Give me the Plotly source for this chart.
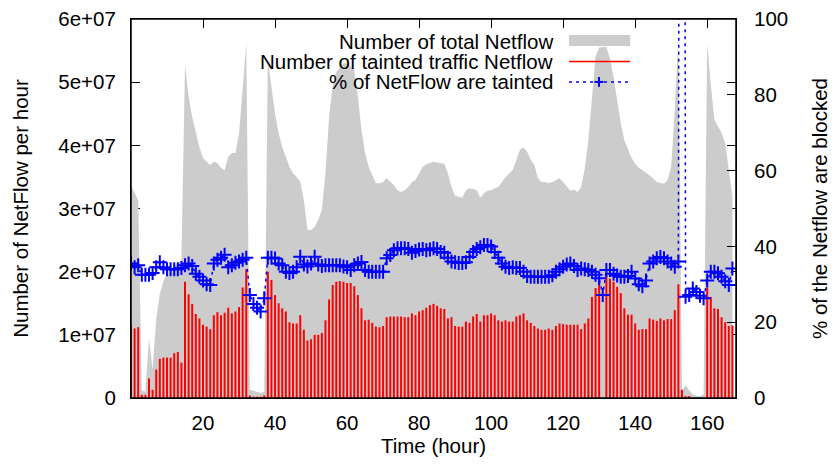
import plotly.graph_objects as go

# ---------------- data ----------------
hours = list(range(168))

# total NetFlow per hour, in units of 1e7 (None = missing hour)
total_e7 = [
    3.37, 3.24, 3.13, 0.12, 0.10, 0.95, 0.45, 1.25, 1.65, 1.85,
    1.98, 2.04, 2.09, 2.13, 2.18, 5.27, 4.77, 4.45, 4.19, 3.97,
    3.80, 3.74, 3.69, 3.74, 3.72, 3.64, 3.61, 3.82, 3.88, 3.88,
    4.19, 4.88, 5.62, 0.13, 0.12, 0.10, 0.08, 0.10, 5.35, 4.95,
    4.50, 4.19, 3.97, 3.82, 3.66, 3.56, 3.50, 3.42, 3.13, 2.66,
    2.66, 2.71, 2.82, 2.98, 3.56, 4.45, 4.93, 5.16, 5.24, 5.30,
    5.30, 5.24, 5.19, 4.77, 4.24, 3.88, 3.66, 3.53, 3.40, 3.40,
    3.42, 3.48, 3.42, 3.37, 3.29, 3.26, 3.29, 3.34, 3.42, 3.45,
    3.56, 3.66, 3.70, 3.72, 3.74, 3.73, 3.72, 3.71, 3.56, 3.34,
    3.20, 3.18, 3.17, 3.29, 3.32, 3.31, 3.29, 3.17, 3.24, 3.28,
    3.29, 3.32, 3.34, 3.42, 3.50, 3.55, 3.61, 3.77, 3.93, 3.97,
    3.90, 3.77, 3.69, 3.48, 3.42, 3.42, 3.40, 3.42, 3.45, 3.48,
    3.42, 3.34, 3.28, 3.30, 3.26, 3.34, 3.63, 4.08, 4.75, 5.41,
    5.55, None, 5.56, 5.37, 5.08, 4.72, 4.35, 4.08, 3.95, 3.80,
    3.71, 3.64, 3.61, 3.57, 3.53, 3.48, 3.42, 3.40, 3.39, 3.45,
    3.66, 4.56, 5.70, 0.12, 0.20, 0.12, 0.06, 0.03, 0.03, 0.05,
    5.62, 4.96, 4.40, 4.30, 4.20, 4.03, 3.61, 3.20,
]

# tainted traffic NetFlow per hour, in units of 1e7
tainted_e7 = [
    1.15, 1.10, 1.12, 0.05, 0.05, 0.31, 0.13, 0.45, 0.62, 0.64,
    0.64, 0.64, 0.71, 0.73, 0.56, 1.84, 1.64, 1.49, 1.33, 1.26,
    1.16, 1.13, 1.09, 1.31, 1.36, 1.31, 1.35, 1.43, 1.34, 1.37,
    1.44, 1.75, 2.04, 0.04, 0.02, 0.02, 0.02, 0.04, 2.00, 1.87,
    1.63, 1.50, 1.42, 1.37, 1.20, 1.18, 1.18, 1.31, 1.08, 0.91,
    0.93, 1.00, 1.00, 1.03, 1.23, 1.56, 1.79, 1.84, 1.85, 1.84,
    1.82, 1.82, 1.77, 1.63, 1.42, 1.23, 1.24, 1.19, 1.13, 1.12,
    1.14, 1.28, 1.29, 1.29, 1.29, 1.29, 1.28, 1.28, 1.34, 1.31,
    1.37, 1.39, 1.43, 1.47, 1.49, 1.46, 1.42, 1.41, 1.26, 1.28,
    1.14, 1.13, 1.13, 1.21, 1.19, 1.29, 1.33, 1.21, 1.31, 1.31,
    1.34, 1.31, 1.23, 1.21, 1.23, 1.21, 1.21, 1.29, 1.31, 1.34,
    1.23, 1.19, 1.14, 1.10, 1.08, 1.08, 1.10, 1.08, 1.14, 1.18,
    1.17, 1.16, 1.16, 1.16, 1.16, 1.09, 1.18, 1.26, 1.60, 1.74,
    1.84, 0.00, 1.93, 1.89, 1.84, 1.76, 1.66, 1.42, 1.32, 1.32,
    1.18, 1.08, 1.09, 1.09, 1.26, 1.24, 1.22, 1.26, 1.23, 1.25,
    1.25, 1.39, 1.80, 0.13, 0.03, 0.03, 0.00, 0.00, 0.00, 0.00,
    1.75, 1.60, 1.42, 1.41, 1.28, 1.20, 1.14, 1.15,
]

# % of NetFlow that are tainted (hour 153 is far above the axis range)
pct_tainted = [
    35.5, 34.5, 35.0, 32.5, 32.5, 32.5, 33.0, 34.5, 35.8, 34.5,
    34.0, 34.0, 34.0, 34.0, 34.3, 35.0, 35.5, 34.8, 32.8, 32.0,
    31.0, 30.0, 29.8, 35.5, 36.5, 37.0, 37.8, 34.5, 35.0, 35.7,
    36.0, 36.5, 37.0, 27.2, 24.8, 23.8, 22.8, 26.3, 37.0, 37.0,
    36.8, 35.5, 35.0, 33.3, 33.0, 33.3, 34.5, 37.3, 35.2, 34.7,
    35.5, 37.3, 35.2, 34.8, 35.0, 35.0, 35.0, 35.0, 35.0, 34.7,
    34.5, 33.8, 35.0, 35.5, 35.9, 33.8, 33.3, 33.3, 33.3, 33.3,
    33.3, 36.9, 37.7, 39.0, 39.5, 39.5, 39.5, 39.3, 38.3, 38.8,
    39.2, 39.3, 39.0, 39.2, 39.5, 39.3, 38.5, 38.3, 37.0, 36.0,
    35.8, 35.6, 35.6, 35.8, 37.2, 38.5, 39.3, 39.8, 40.4, 40.4,
    40.0, 38.5, 37.0, 35.5, 34.6, 34.3, 34.5, 34.3, 34.3, 33.3,
    32.2, 32.0, 32.0, 32.0, 32.0, 32.0, 32.0, 32.4, 33.3, 34.0,
    34.6, 35.2, 35.5, 34.8, 33.8, 34.2, 34.0, 33.8, 33.3, 32.5,
    31.6, 27.2, 33.8, 33.8, 32.8, 32.3, 32.0, 32.0, 32.2, 33.3,
    31.5, 30.0, 29.5, 31.0, 35.5, 36.0, 36.9, 37.2, 36.9, 36.0,
    35.5, 34.6, 36.0, 600.0, 26.7, 27.2, 28.9, 28.0, 27.0, 26.3,
    31.0, 33.3, 33.3, 32.9, 32.0, 30.8, 29.8, 34.2,
]

x_tick_vals = [20, 40, 60, 80, 100, 120, 140, 160]
y_tick_vals = [0, 1e7, 2e7, 3e7, 4e7, 5e7, 6e7]
y_tick_text = ["0", "1e+07", "2e+07", "3e+07", "4e+07", "5e+07", "6e+07"]
y2_tick_vals = [0, 20, 40, 60, 80, 100]

legend_labels = ["Number of total Netflow",
                 "Number of tainted traffic Netflow",
                 "% of NetFlow are tainted"]

# ---------------- derived series ----------------
total = [None if v is None else v * 1e7 for v in total_e7]
tainted = [v * 1e7 for v in tainted_e7]

# impulses (vertical sticks from 0 to value) for the tainted series
imp_x, imp_y = [], []
for h, v in zip(hours, tainted):
    imp_x += [h, h, None]
    imp_y += [0, v, None]

GRAY = "#cccccc"
RED = "#ff0000"
BLUE = "#0000ff"
FONT = "Liberation Sans, Arial, Helvetica, sans-serif"
FS = 20.5

fig = go.Figure()

fig.add_trace(go.Scatter(
    x=hours, y=total, mode="lines", line=dict(width=0, color=GRAY),
    fill="tozeroy", fillcolor=GRAY, connectgaps=False,
    showlegend=False, hoverinfo="skip", yaxis="y"))

fig.add_trace(go.Scatter(
    x=imp_x, y=imp_y, mode="lines", line=dict(width=2, color=RED),
    connectgaps=False, showlegend=False, hoverinfo="skip", yaxis="y"))

fig.add_trace(go.Scatter(
    x=hours, y=pct_tainted, mode="lines+markers",
    line=dict(width=1.5, color=BLUE, dash="3px,4px"),
    marker=dict(symbol="cross-thin", size=10,
                line=dict(width=2, color=BLUE), color=BLUE),
    cliponaxis=True, showlegend=False, hoverinfo="skip", yaxis="y2"))

# ---------------- custom gnuplot-style legend ----------------
text_x = 0.701
rows_y = [0.940, 0.887, 0.835]
for lab, yy in zip(legend_labels, rows_y):
    fig.add_annotation(x=text_x, y=yy, xref="paper", yref="paper",
                       text=lab, showarrow=False, xanchor="right",
                       yanchor="middle", font=dict(family=FONT, size=FS, color="black"))

s_x0, s_x1 = 0.724, 0.825
shapes = [
    dict(type="rect", xref="paper", yref="paper", x0=s_x0, x1=s_x1,
         y0=0.929, y1=0.958, fillcolor=GRAY, line=dict(width=0), layer="above"),
    dict(type="line", xref="paper", yref="paper", x0=s_x0, x1=s_x1,
         y0=rows_y[1] + 0.001, y1=rows_y[1] + 0.001,
         line=dict(color=RED, width=1.5), layer="above"),
    dict(type="line", xref="paper", yref="paper", x0=s_x0, x1=s_x1,
         y0=rows_y[2] - 0.001, y1=rows_y[2] - 0.001,
         line=dict(color=BLUE, width=1.5, dash="3px,4px"), layer="above"),
    dict(type="line", xref="paper", yref="paper", x0=0.7736 - 0.0075, x1=0.7736 + 0.0075,
         y0=rows_y[2] - 0.001, y1=rows_y[2] - 0.001,
         line=dict(color=BLUE, width=2), layer="above"),
    dict(type="line", xref="paper", yref="paper", x0=0.7736, x1=0.7736,
         y0=rows_y[2] - 0.014, y1=rows_y[2] + 0.012,
         line=dict(color=BLUE, width=2), layer="above"),
    # plot border
    dict(type="rect", xref="paper", yref="paper", x0=0, x1=1, y0=0, y1=1,
         line=dict(color="black", width=1.5), fillcolor="rgba(0,0,0,0)", layer="above"),
]

axis_font = dict(family=FONT, size=FS, color="black")

fig.update_layout(
    width=835, height=464,
    margin=dict(l=131, r=99, t=19, b=66, pad=0, autoexpand=False),
    paper_bgcolor="white", plot_bgcolor="white",
    font=axis_font,
    showlegend=False,
    shapes=shapes,
    xaxis=dict(
        range=[0, 168], tickvals=x_tick_vals, ticks="inside", ticklen=9,
        tickwidth=1, tickcolor="black", showline=True, linecolor="black",
        linewidth=1, mirror="ticks", showgrid=False, zeroline=False,
        tickfont=axis_font, layer="below traces", ticklabelstandoff=6,
        automargin=False,
        title=dict(text="Time (hour)", font=axis_font, standoff=6),
    ),
    yaxis=dict(
        range=[0, 6e7], tickvals=y_tick_vals, ticktext=y_tick_text,
        ticks="inside", ticklen=9, tickwidth=1, tickcolor="black",
        showline=True, linecolor="black", linewidth=1, mirror="ticks",
        showgrid=False, zeroline=False, tickfont=axis_font,
        layer="below traces", ticklabelstandoff=10, automargin=False,
        title=dict(text="Number of NetFlow per hour", font=axis_font, standoff=24),
    ),
    yaxis2=dict(
        range=[0, 100], tickvals=y2_tick_vals, overlaying="y", side="right",
        ticks="inside", ticklen=9, tickwidth=1, tickcolor="black",
        showline=False, showgrid=False, zeroline=False, tickfont=axis_font,
        ticklabelstandoff=17, automargin=False,
        title=dict(text="% of the Netflow are blocked", font=axis_font, standoff=25),
    ),
)

fig.write_html("out.html")
